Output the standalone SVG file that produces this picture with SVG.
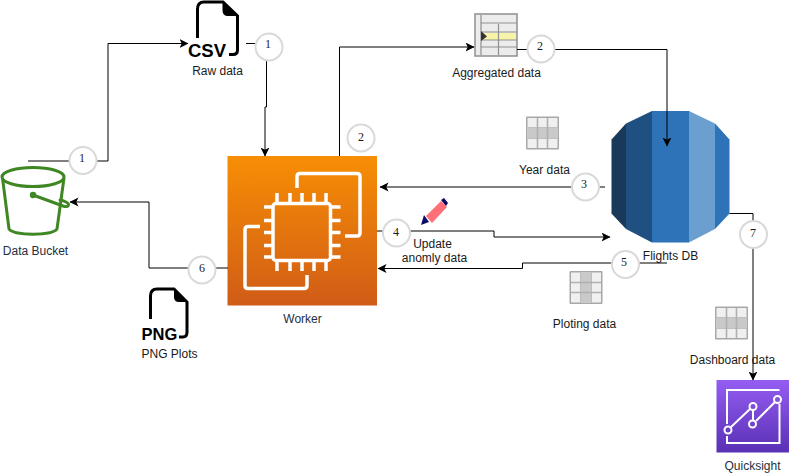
<svg xmlns="http://www.w3.org/2000/svg" xmlns:xlink="http://www.w3.org/1999/xlink" width="791" height="474" viewBox="0 0 791 474">
<style>
text{font-family:"Liberation Sans",Arial,sans-serif;font-size:12px;fill:#1a1a1a;text-anchor:middle}
.aws{fill:#232f3e}
.num{font-family:"Liberation Serif","Times New Roman",serif;font-size:12px;fill:#1a1a1a}
.badge{fill:#fff;stroke:#d9d9d9;stroke-width:2}
.c{fill:none;stroke:#000;stroke-width:1}
.w{fill:none;stroke:#fff;stroke-width:3.500;stroke-linejoin:round}
.q{fill:none;stroke:#fff;stroke-width:2}
.f{fill:none;stroke:#000;stroke-width:3}
</style>
<defs>
<linearGradient id="orange" x1="0" y1="0" x2="0" y2="1"><stop offset="0" stop-color="#f78e04"/><stop offset="1" stop-color="#d05c17"/></linearGradient>
<linearGradient id="purple" x1="0" y1="0" x2="0" y2="1"><stop offset="0" stop-color="#945df2"/><stop offset="1" stop-color="#5a30b5"/></linearGradient>
<marker id="a" markerWidth="10" markerHeight="10" refX="8.500" refY="4.500" orient="auto" markerUnits="userSpaceOnUse"><path d="M0 0L9 4.500L0 9L2.200 4.500Z" fill="#000"/></marker>
<filter id="s" x="-10%" y="-10%" width="125%" height="125%"><feGaussianBlur stdDeviation="0.6"/></filter>
<g id="grid">
<rect x="0.500" y="0.500" width="33" height="33" rx="1" fill="#a8a8a8" filter="url(#s)"/>
<rect x="2" y="2" width="30" height="30" fill="#f0f0f0"/>
<path d="M12 2V32M22 2V32M2 12H32M2 22H32" stroke="#b0b0b0" stroke-width="1.600" fill="none"/>
</g>
</defs>

<g id="bucket">
<g fill="none" stroke="#3f8624" stroke-width="3">
<ellipse cx="33" cy="177" rx="31" ry="9.500"/>
<path d="M2.500 178L9 229C14 236 52 236 57 229L64 178"/>
<path d="M33 195L63 206C69 208 70 204 66 202C62 200 60 200 60 200" stroke-linecap="round"/>
</g>
<circle cx="33" cy="195" r="3.200" fill="#3f8624"/>
<text class="aws" x="35.500" y="255">Data Bucket</text>
</g>

<g id="raw-data">
<path class="f" d="M197.500 38V9Q197.500 2 204 2H223L237.500 16V50Q237.500 54.500 233 54.500H229"/>
<path d="M222.500 2L237.500 16H228Q222.500 16 222.500 10Z" fill="#000"/>
<text x="207" y="57" style="font-size:18.500px;font-weight:700;fill:#000">CSV</text>
<text x="217.500" y="75">Raw data</text>
</g>

<g id="aggregated-data">
<rect x="475" y="14" width="42" height="42" fill="#ececec" stroke="#8f8f8f" stroke-width="1.500"/>
<rect x="482" y="33" width="34" height="7" fill="#f7f3a8"/>
<path d="M481 15V55M481 23H517M481 32H517M481 40H517M481 47H517M498.500 24V55" stroke="#8f8f8f" stroke-width="1.200" fill="none"/>
<path d="M481 31L487 36.500L481 41Z" fill="#333"/>
<text x="496.500" y="77">Aggregated data</text>
</g>

<g id="year-data">
<use xlink:href="#grid" x="525.500" y="116"/>
<rect x="527.500" y="128" width="30" height="10" fill="#c9c9c9"/>
<path d="M537.500 128V138M547.500 128V138" stroke="#b0b0b0" stroke-width="1.600"/>
<text x="544.500" y="174">Year data</text>
</g>

<g id="ploting-data">
<use xlink:href="#grid" x="569" y="270.500"/>
<rect x="581" y="272.500" width="10" height="30" fill="#c9c9c9"/>
<path d="M581 282.500H591M581 292.500H591" stroke="#b0b0b0" stroke-width="1.600"/>
<text x="584.500" y="328">Ploting data</text>
</g>

<g id="dashboard-data">
<use xlink:href="#grid" x="714.500" y="306"/>
<rect x="716.500" y="318" width="30" height="10" fill="#c9c9c9"/>
<path d="M726.500 318V328M736.500 318V328" stroke="#b0b0b0" stroke-width="1.600"/>
<text x="732.500" y="364">Dashboard data</text>
</g>

<g id="worker">
<rect x="227.500" y="156" width="149.500" height="149.500" fill="url(#orange)"/>
<g class="w">
<rect x="273" y="203.500" width="57.500" height="57" rx="3"/>
<path d="M277 193V204M290 193V204M302 193V204M314 193V204M326 193V204M277 260V271M290 260V271M302 260V271M314 260V271M326 260V271M264 207H273M264 220.500H273M264 232.500H273M264 245.500H273M264 257H273M330 207H340.500M330 220.500H340.500M330 232.500H340.500M330 245.500H340.500M330 257H340.500"/>
<path d="M297 188V176.500Q297 173.500 300 173.500H357Q360 173.500 360 176.500V233Q360 236 357 236H345"/>
<path d="M260 226.500H248Q245 226.500 245 229.500V285.500Q245 288.500 248 288.500H304Q307 288.500 307 285.500V275"/>
</g>
<text class="aws" x="302.500" y="323">Worker</text>
</g>

<g id="flights-db">
<path d="M611.500 139.500L626 123.500V229L611.500 213.500Z" fill="#19395a"/>
<path d="M626 123.500L652 111V242.500L626 229Z" fill="#205081"/>
<rect x="652" y="111" width="37" height="131.500" fill="#2e73b8"/>
<path d="M689 111L715 123.500V229L689 242.500Z" fill="#6b9fd0"/>
<path d="M715 123.500L729.500 139.500V213.500L715 229Z" fill="#2e73b8"/>
<text x="670.500" y="260">Flights DB</text>
</g>

<g id="pencil">
<path d="M426 216L441 201L447 207L432 223Z" fill="#ff6f78"/>
<path d="M441 200L444 198L448 203L446 206Z" fill="#0d0b66"/>
<path d="M421 225L424 215L429 222Z" fill="#0d0b66"/>
<text x="432.500" y="248">Update</text>
<text x="434.500" y="262">anomly data</text>
</g>

<g id="png-plots">
<path class="f" d="M150.500 319V296Q150.500 289 157 289H174L187 302V332Q187 337 183 337H179"/>
<path d="M174 289L187 302H179Q174 302 174 297Z" fill="#000"/>
<text x="159.500" y="339.500" style="font-size:16.500px;font-weight:700;fill:#000">PNG</text>
<text x="169.500" y="358">PNG Plots</text>
</g>

<g id="quicksight">
<rect x="716.500" y="380" width="72.500" height="72.500" fill="url(#purple)"/>
<g class="q">
<path d="M779.500 390H727V424M727 436V443H779.500V404"/>
<path d="M731 427L750 409M753 410V420M756 421L775 402"/>
<circle cx="728" cy="430" r="3.500"/><circle cx="753" cy="406.500" r="3.500"/><circle cx="752.500" cy="424" r="3.500"/><circle cx="777.500" cy="399.500" r="3.500"/>
</g>
<text class="aws" x="752.500" y="470">Quicksight</text>
</g>

<g id="connectors">
<path class="c" d="M28 161H108V43.500H188" marker-end="url(#a)"/>
<path class="c" d="M246 43.500H256M266.500 60V107H265V156" marker-end="url(#a)"/>
<path class="c" d="M339.500 156V47H474" marker-end="url(#a)"/>
<path class="c" d="M517 49.500H667V146" marker-end="url(#a)"/>
<path class="c" d="M605 187H380" marker-end="url(#a)"/>
<path class="c" d="M377 231H494V237H610" marker-end="url(#a)"/>
<path class="c" d="M667 263H522.500V268.500H378" marker-end="url(#a)"/>
<path class="c" d="M228 268H149V202H70" marker-end="url(#a)"/>
<path class="c" d="M729.500 213.500H753V380" marker-end="url(#a)"/>
</g>

<g id="badges">
<circle class="badge" cx="83" cy="160.500" r="13.500"/><text class="num" x="82" y="162">1</text>
<circle class="badge" cx="269" cy="47" r="13.500"/><text class="num" x="268" y="48">1</text>
<circle class="badge" cx="361" cy="138" r="13.500"/><text class="num" x="361" y="141">2</text>
<circle class="badge" cx="541" cy="49" r="13.500"/><text class="num" x="540" y="50">2</text>
<circle class="badge" cx="585.500" cy="187" r="13.500"/><text class="num" x="584" y="188">3</text>
<circle class="badge" cx="396.500" cy="233" r="13.500"/><text class="num" x="396" y="236">4</text>
<circle class="badge" cx="625.500" cy="264.500" r="13.500"/><text class="num" x="624" y="266">5</text>
<circle class="badge" cx="202" cy="270" r="13.500"/><text class="num" x="202" y="272">6</text>
<circle class="badge" cx="753.500" cy="234.500" r="13.500"/><text class="num" x="753" y="237">7</text>
</g>
</svg>
